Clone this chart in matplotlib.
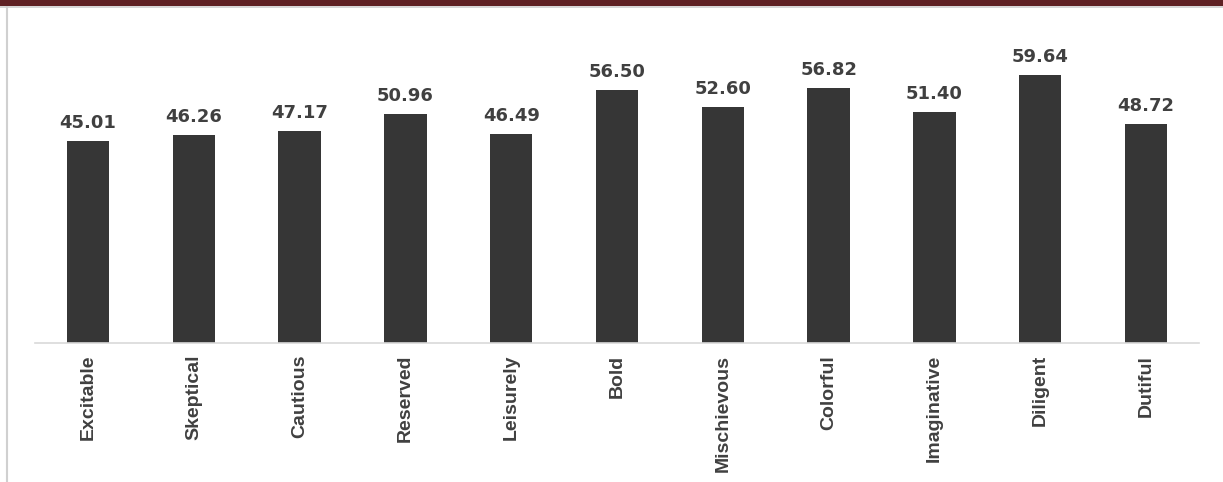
import matplotlib
matplotlib.use("Agg")
import matplotlib.pyplot as plt
from matplotlib.patches import Rectangle
from matplotlib.lines import Line2D

categories = ["Excitable", "Skeptical", "Cautious", "Reserved", "Leisurely", "Bold",
              "Mischievous", "Colorful", "Imaginative", "Diligent", "Dutiful"]
values = [45.01, 46.26, 47.17, 50.96, 46.49, 56.50, 52.60, 56.82, 51.40, 59.64, 48.72]

fig = plt.figure(figsize=(12.23, 4.82), dpi=100)
W, H = 1223, 482
ax = fig.add_axes([35 / W, (H - 343) / H, (1199 - 35) / W, (343 - 29) / H])

x = list(range(len(categories)))
ax.bar(x, values, width=0.40, color="#363636", edgecolor="none", zorder=2)
ax.set_xlim(-0.5, 10.5)
ax.set_ylim(0, 70)

for xi, v in zip(x, values):
    ax.annotate(f"{v:.2f}", (xi, v), xytext=(0, 6.5), textcoords="offset points",
                ha="center", va="bottom", fontsize=13, fontweight="bold",
                color="#404040", family="DejaVu Sans")

ax.set_xticks(x)
ax.set_xticklabels(categories, rotation=90, fontsize=14, fontweight="bold",
                   color="#404040", family="Liberation Sans")
ax.tick_params(axis="x", length=0, pad=8.5)
ax.set_yticks([])
for s in ["top", "right", "left"]:
    ax.spines[s].set_visible(False)
ax.spines["bottom"].set_color("#d9d9d9")
ax.spines["bottom"].set_linewidth(1.2)

# decorative frame
fig.patches.append(Rectangle((0, (H - 6) / H), 1, 6 / H, transform=fig.transFigure,
                             facecolor="#5f2124", edgecolor="none", zorder=5))
fig.lines.append(Line2D([0, 1], [(H - 7) / H, (H - 7) / H], transform=fig.transFigure,
                        color="#d0d0d0", linewidth=1.2))
fig.lines.append(Line2D([6.5 / W, 6.5 / W], [0, (H - 7) / H], transform=fig.transFigure,
                        color="#d0d0d0", linewidth=1.5))

fig.savefig("out.png", dpi=100)
